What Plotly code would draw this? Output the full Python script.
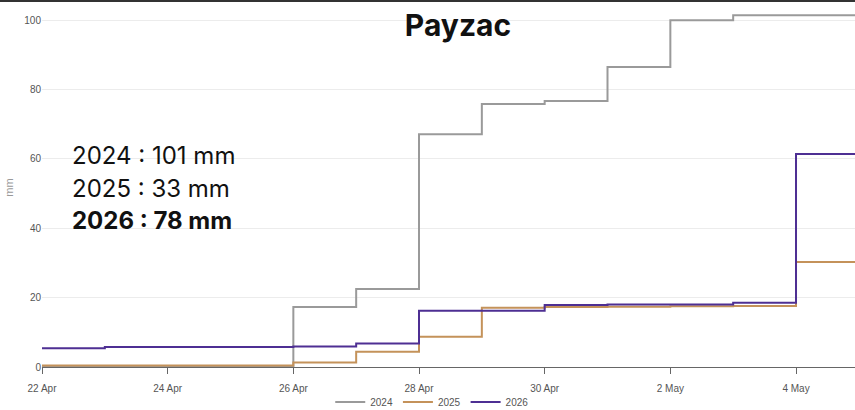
import plotly.graph_objects as go

dates = ["2026-04-22", "2026-04-23", "2026-04-24", "2026-04-25", "2026-04-26",
         "2026-04-27", "2026-04-28", "2026-04-29", "2026-04-30", "2026-05-01",
         "2026-05-02", "2026-05-03", "2026-05-04", "2026-05-05"]
rain_2024 = [0, 0, 0, 0, 17.3, 22.5, 67.1, 75.8, 76.7, 86.5, 100.0, 101.4, 101.4, 101.4]
rain_2025 = [0.4, 0.4, 0.4, 0.4, 1.3, 4.4, 8.7, 17.1, 17.3, 17.4, 17.5, 17.6, 30.3, 30.3]
rain_2026 = [5.4, 5.8, 5.8, 5.8, 5.9, 6.8, 16.2, 16.2, 17.9, 18.0, 18.0, 18.5, 61.4, 61.4]
series_names = ["2024", "2025", "2026"]
series_colors = ["#9a9a9a", "#c4925a", "#4e2f93"]
totals = ["2024 : 101 mm", "2025 : 33 mm", "<b>2026 : 78 mm</b>"]

fig = go.Figure()
for name, vals, col in zip(series_names, [rain_2024, rain_2025, rain_2026], series_colors):
    fig.add_trace(go.Scatter(x=dates, y=vals, name=name, mode="lines",
                             line=dict(color=col, width=2, shape="hv")))

annots = []
for i, t in enumerate(totals):
    annots.append(dict(text=t, xref="paper", yref="paper",
                       x=(70 - 42) / 813, y=(367 - (155 + 33 * i)) / 359,
                       xanchor="left", yanchor="middle", showarrow=False,
                       font=dict(family="Inter, Noto Sans, sans-serif", size=24, color="#111")))

fig.update_layout(
    width=855, height=410,
    margin=dict(l=42, r=0, t=8, b=43),
    paper_bgcolor="white", plot_bgcolor="white",
    title=dict(text="<b>Payzac</b>", x=458 / 855, xanchor="center",
               y=1 - 25 / 410, yanchor="middle",
               font=dict(family="Inter, Noto Sans, sans-serif", size=30, color="#111")),
    xaxis=dict(range=["2026-04-22", "2026-05-04 22:32"], dtick=2 * 86400000,
               tick0="2026-04-22", tickformat="%-d %b", showgrid=False,
               showline=True, linecolor="#666", linewidth=1, automargin=False,
               ticks="outside", ticklen=6, tickcolor="#666", ticklabelstandoff=6,
               tickfont=dict(family="Arial, Liberation Sans, sans-serif", size=10, color="#555")),
    yaxis=dict(range=[0, 103.5], tickvals=[0, 20, 40, 60, 80, 100],
               showgrid=True, gridcolor="#ececec", zeroline=False, automargin=False,
               tickfont=dict(family="Arial, Liberation Sans, sans-serif", size=10, color="#555"),
               title=dict(text="mm", standoff=8,
                          font=dict(family="Arial, Liberation Sans, sans-serif", size=11, color="#999"))),
    legend=dict(orientation="h", x=0.48, xanchor="center",
                yref="container", y=8 / 410, yanchor="middle",
                font=dict(family="Arial, Liberation Sans, sans-serif", size=10, color="#555"),
                itemwidth=30, bgcolor="rgba(0,0,0,0)"),
    annotations=annots,
    shapes=[dict(type="line", xref="paper", yref="paper",
                 x0=-42 / 813, x1=1, y0=1 + 7 / 359, y1=1 + 7 / 359,
                 line=dict(color="#333", width=2))],
)

fig.write_html("out.html", config={"displayModeBar": False},
               post_script="document.body.style.margin='0';")
